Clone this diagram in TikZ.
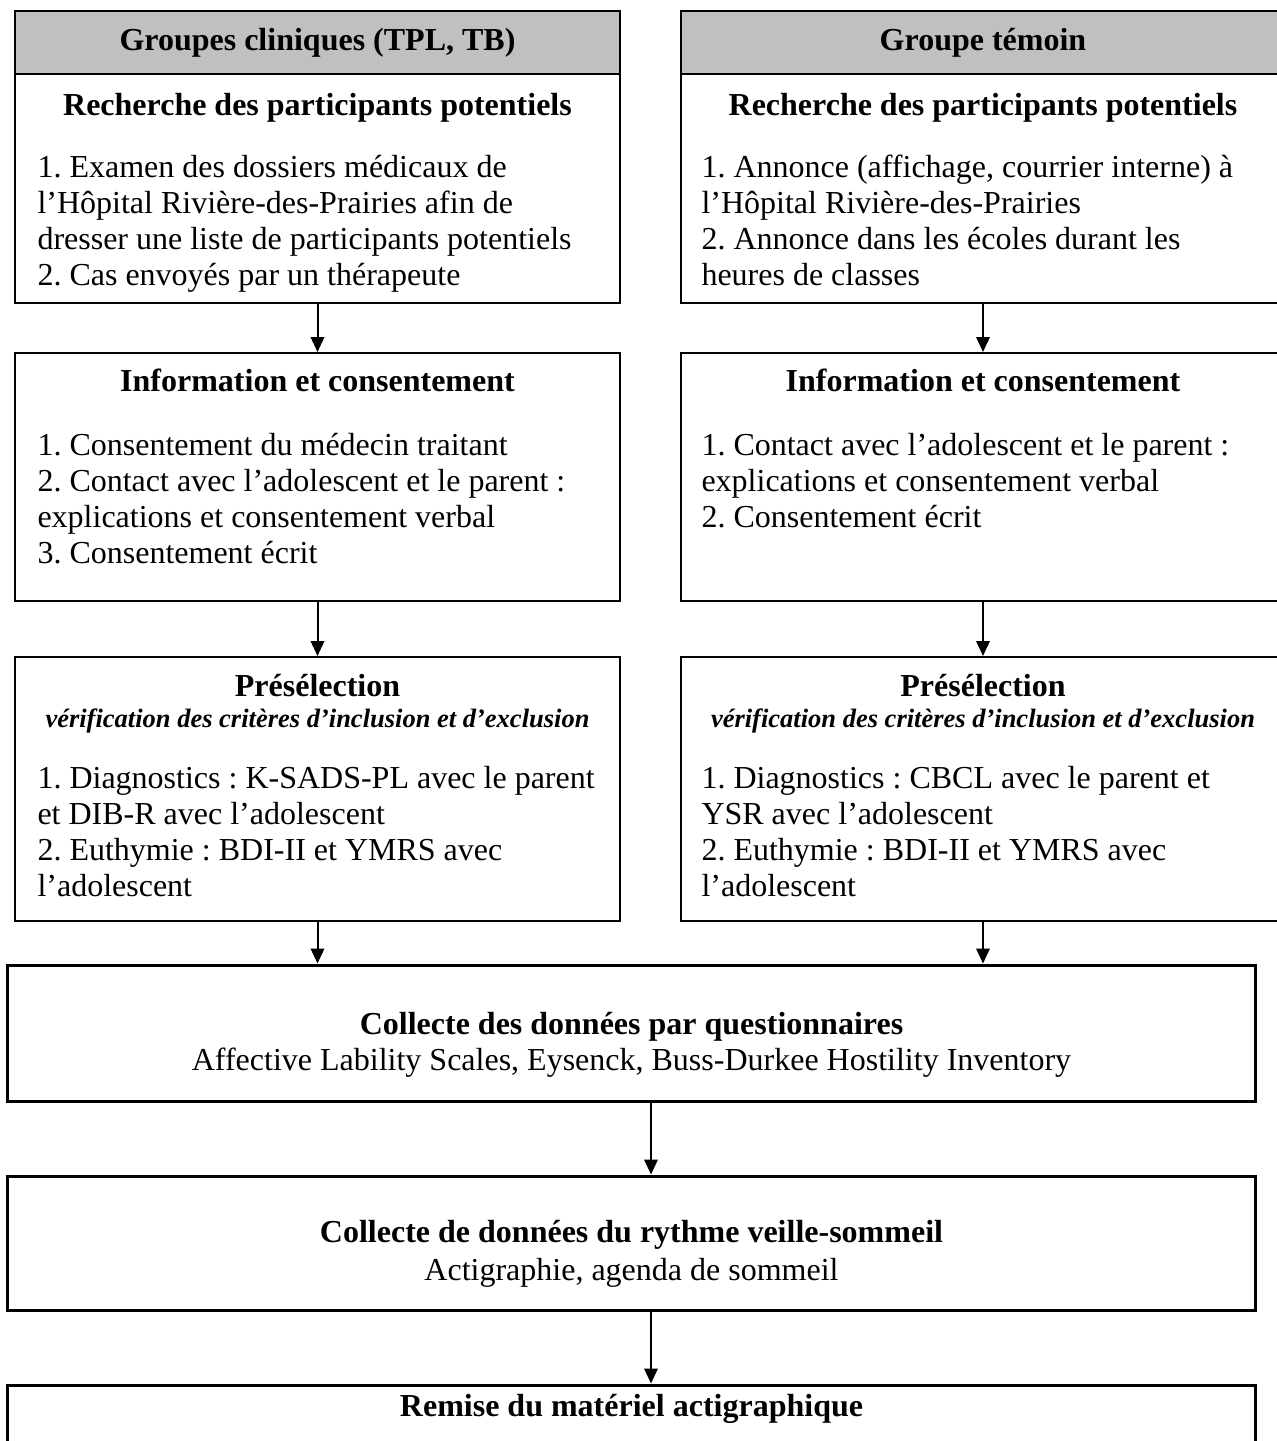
\documentclass[tikz,border=0pt]{standalone}
\usepackage{fontspec}
\setmainfont{Liberation Serif}
\usetikzlibrary{arrows.meta,positioning}
\frenchspacing
\definecolor{hdrgray}{RGB}{192,192,192}
\tikzset{
  hdrbox/.style={draw, line width=0.8pt, fill=hdrgray, minimum width=242pt,
                 minimum height=25.2pt, inner sep=0pt, font=\fontsize{12.8}{14.5}\selectfont\bfseries},
  stepbox/.style={draw, line width=0.8pt, minimum width=242pt, inner sep=0pt},
  widebox/.style={draw, line width=1.2pt, minimum width=498.8pt, inner sep=0pt},
  ttl/.style={anchor=base, inner sep=0pt, font=\fontsize{12.8}{14.5}\selectfont\bfseries},
  crit/.style={anchor=base, inner sep=0pt, font=\fontsize{10.6}{12}\selectfont\bfseries\itshape},
  bodytxt/.style={anchor=base west, inner sep=0pt, align=left, font=\fontsize{12.8}{14.5}\selectfont},
  subtxt/.style={anchor=base, inner sep=0pt, font=\fontsize{12.8}{14.5}\selectfont},
  arr/.style={-{Triangle[length=6pt,width=5.4pt]}, line width=0.8pt},
}

\begin{document}
\begin{tikzpicture}[x=0.4pt, y=-0.4pt]
  \useasboundingbox (0,0) rectangle (1276,1441);
  % en-tetes
  \node[hdrbox] (hdrL) at (317.5,42.5) {Groupes cliniques (TPL, TB)};
  \node[hdrbox] (hdrR) at (983,42.5) {Groupe témoin};
  % groupes cliniques
  \node[stepbox, minimum height=91.6pt] (rechL) at (317.5,188.5) {};
  \node[ttl] (rechLt) at (317.5,115) {Recherche des participants potentiels};
  \node[bodytxt] (rechLb) at (37,285.75) {1. Examen des dossiers médicaux de\\
    l’Hôpital Rivière-des-Prairies afin de\\
    dresser une liste de participants potentiels\\
    2. Cas envoyés par un thérapeute};
  \node[stepbox, minimum height=99.2pt] (infoL) at (317.5,477) {};
  \node[ttl] (infoLt) at (317.5,391) {Information et consentement};
  \node[bodytxt] (infoLb) at (37,563.75) {1. Consentement du médecin traitant\\
    2. Contact avec l’adolescent et le parent :\\
    explications et consentement verbal\\
    3. Consentement écrit};
  \node[stepbox, minimum height=105.6pt] (preL) at (317.5,789) {};
  \node[ttl] (preLt) at (317.5,696) {Présélection};
  \node[crit] (preLc) at (317.5,727) {vérification des critères d’inclusion et d’exclusion};
  \node[bodytxt] (preLb) at (37,896.75) {1. Diagnostics : K-SADS-PL avec le parent\\
    et DIB-R avec l’adolescent\\
    2. Euthymie : BDI-II et YMRS avec\\
    l’adolescent};
  % groupe temoin
  \node[stepbox, minimum height=91.6pt] (rechR) at (983,188.5) {};
  \node[ttl] (rechRt) at (983,115) {Recherche des participants potentiels};
  \node[bodytxt] (rechRb) at (701,285.75) {1. Annonce (affichage, courrier interne) à\\
    l’Hôpital Rivière-des-Prairies\\
    2. Annonce dans les écoles durant les\\
    heures de classes};
  \node[stepbox, minimum height=99.2pt] (infoR) at (983,477) {};
  \node[ttl] (infoRt) at (983,391) {Information et consentement};
  \node[bodytxt] (infoRb) at (701,527.5) {1. Contact avec l’adolescent et le parent :\\
    explications et consentement verbal\\
    2. Consentement écrit};
  \node[stepbox, minimum height=105.6pt] (preR) at (983,789) {};
  \node[ttl] (preRt) at (983,696) {Présélection};
  \node[crit] (preRc) at (983,727) {vérification des critères d’inclusion et d’exclusion};
  \node[bodytxt] (preRb) at (701,896.75) {1. Diagnostics : CBCL avec le parent et\\
    YSR avec l’adolescent\\
    2. Euthymie : BDI-II et YMRS avec\\
    l’adolescent};
  % etapes communes
  \node[widebox, minimum height=54.4pt] (colA) at (631.5,1033) {};
  \node[ttl] (colAt) at (631.5,1034) {Collecte des données par questionnaires};
  \node[subtxt] (colAs) at (631.5,1070) {Affective Lability Scales, Eysenck, Buss-Durkee Hostility Inventory};
  \node[widebox, minimum height=53.6pt] (colB) at (631.5,1243) {};
  \node[ttl] (colBt) at (631.5,1242) {Collecte de données du rythme veille-sommeil};
  \node[subtxt] (colBs) at (631.5,1280) {Actigraphie, agenda de sommeil};
  \node[widebox, minimum height=58pt] (remC) at (631.5,1457.5) {};
  \node[ttl] (remCt) at (631.5,1416) {Remise du matériel actigraphique};
  % fleches
  \coordinate (mid) at (651,1100);
  \draw[arr] (rechL.south) -- (infoL.north);
  \draw[arr] (infoL.south) -- (preL.north);
  \draw[arr] (rechR.south) -- (infoR.north);
  \draw[arr] (infoR.south) -- (preR.north);
  \draw[arr] (preL.south) -- (preL.south |- colA.north);
  \draw[arr] (preR.south) -- (preR.south |- colA.north);
  \draw[arr] (colA.south -| mid) -- (colB.north -| mid);
  \draw[arr] (colB.south -| mid) -- (remC.north -| mid);
\end{tikzpicture}
\end{document}
